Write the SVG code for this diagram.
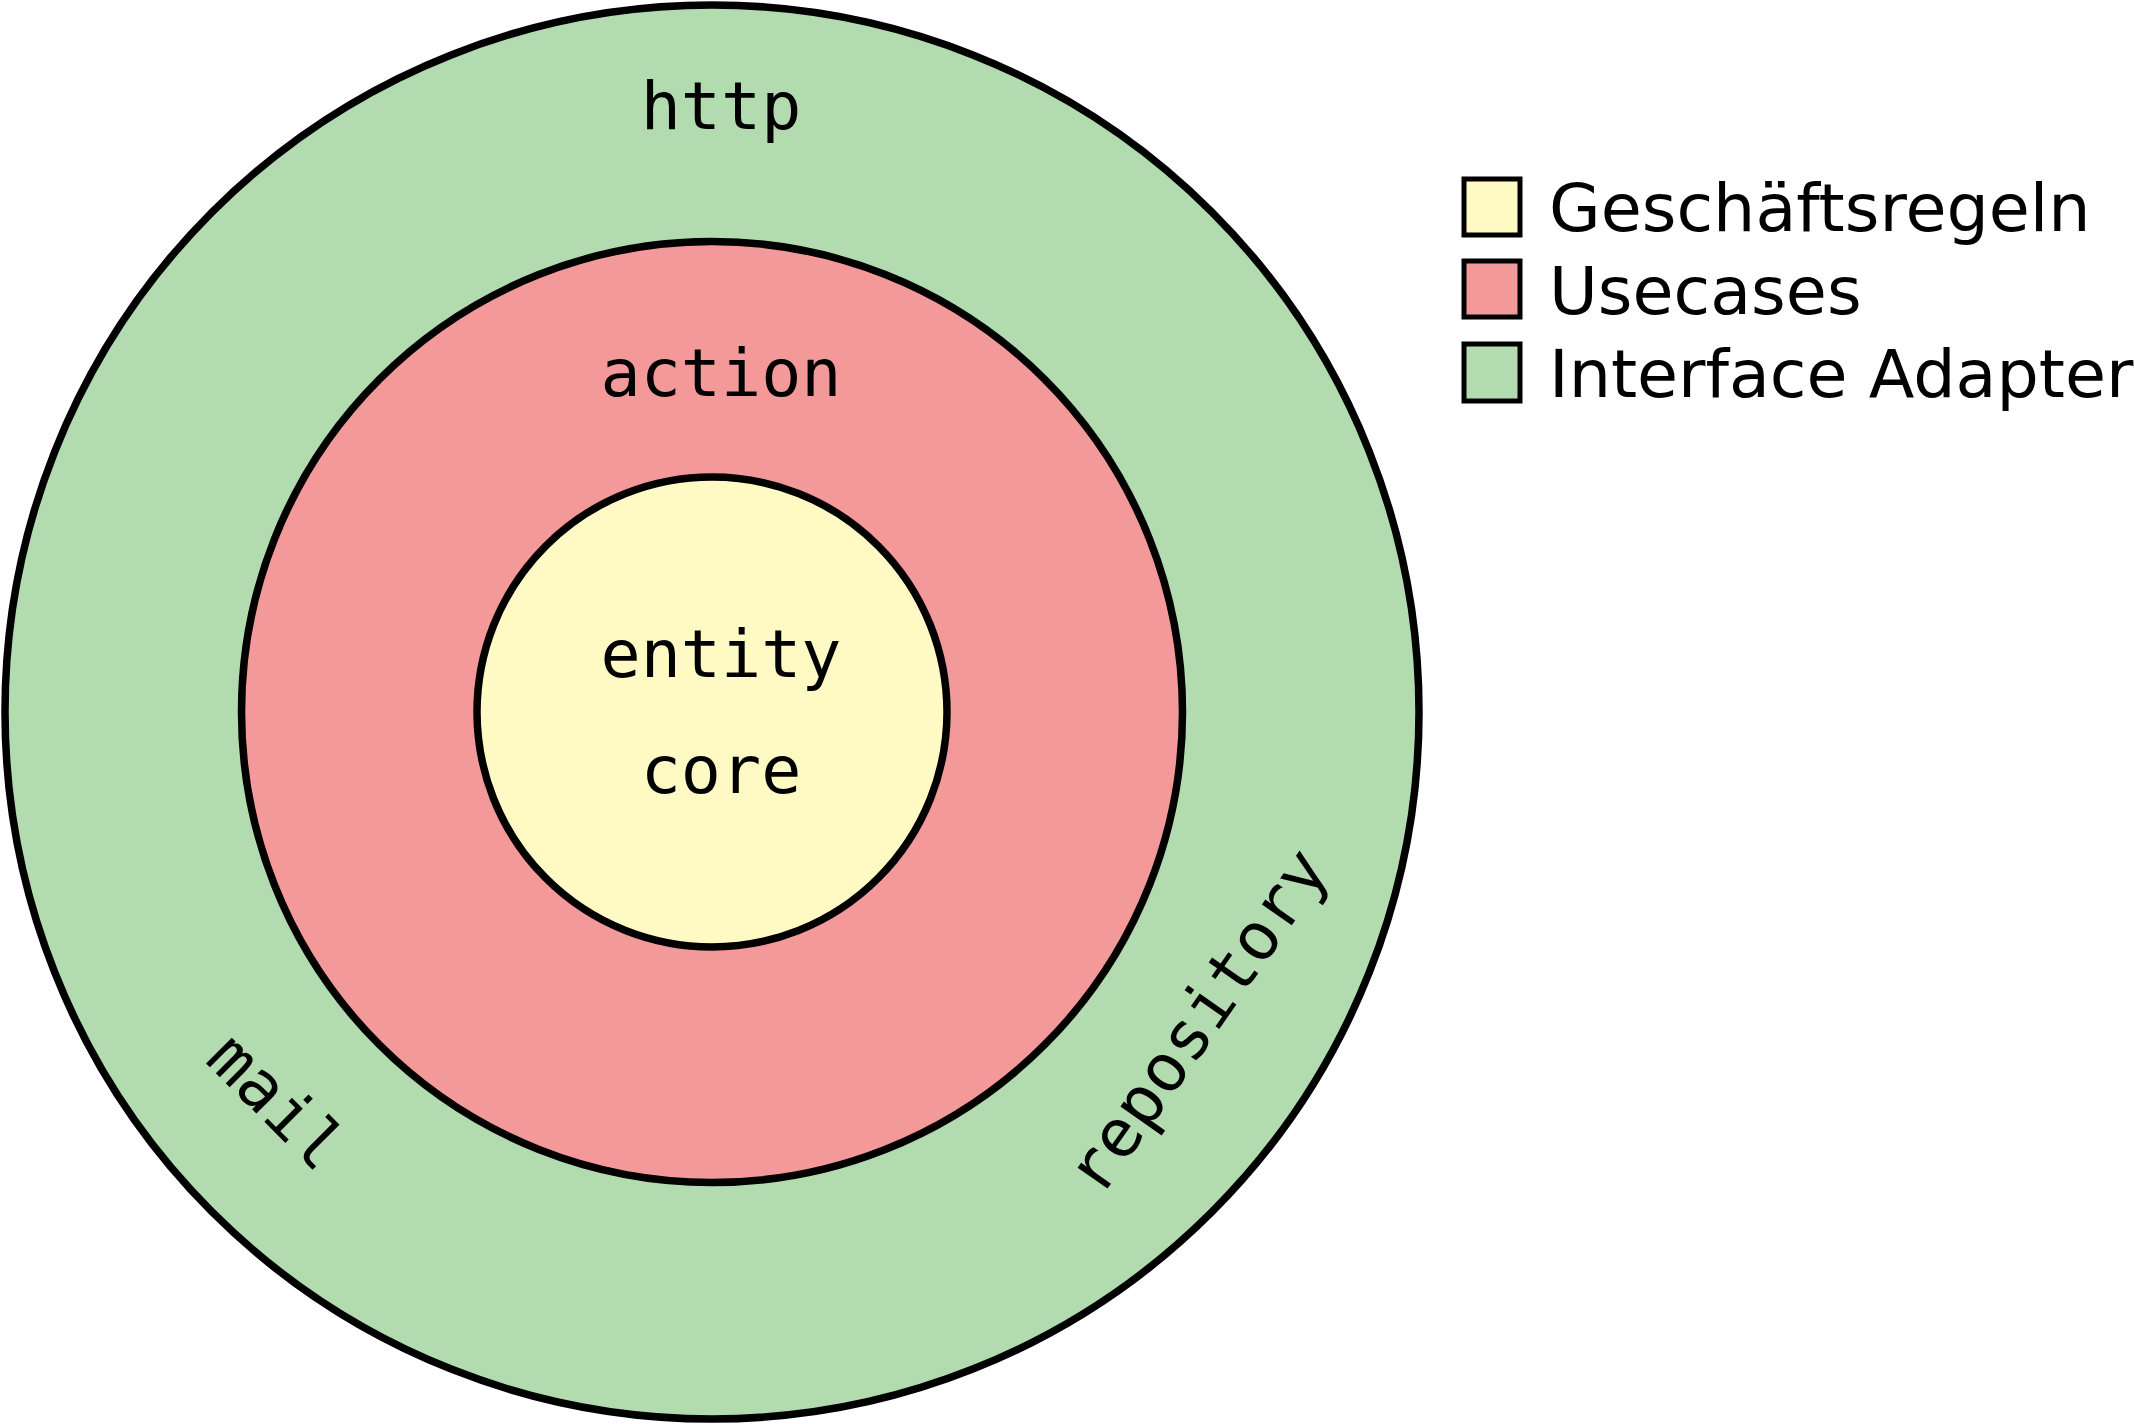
<svg xmlns="http://www.w3.org/2000/svg" width="2134" height="1424" viewBox="0 0 2134 1424">
<style>
.ring{stroke:#000;stroke-width:7.5}
.box{stroke:#000;stroke-width:5}
.mono{font-family:"DejaVu Sans Mono","Liberation Mono",monospace;font-size:66.7px;fill:#000;text-anchor:middle}
.leg{font-family:"DejaVu Sans","Liberation Sans",sans-serif;font-size:66.7px;fill:#000}
.g{fill:#b3dbb0}.r{fill:#f4999a}.y{fill:#fff9c4}
</style>
<rect width="2134" height="1424" fill="#fff"/>
<g id="interface-adapter">
<circle class="ring g" cx="712" cy="712" r="707"/>
<text class="mono" x="721" y="129">http</text>
<text class="mono" transform="translate(278,1100) rotate(45)" x="0" y="25">mail</text>
<text class="mono" transform="translate(1202,1024) rotate(-55)" x="0" y="17">repository</text>
</g>
<g id="usecases">
<circle class="ring r" cx="712" cy="712" r="470.5"/>
<text class="mono" x="721" y="396">action</text>
</g>
<g id="geschaeftsregeln">
<circle class="ring y" cx="712" cy="712" r="235"/>
<text class="mono" x="721" y="677">entity</text>
<text class="mono" x="721" y="793">core</text>
</g>
<g id="legend">
<g id="legend-geschaeftsregeln"><rect class="box y" x="1464" y="179" width="56" height="56"/><text class="leg" x="1549" y="231">Geschäftsregeln</text></g>
<g id="legend-usecases"><rect class="box r" x="1464" y="261" width="56" height="56"/><text class="leg" x="1549" y="314">Usecases</text></g>
<g id="legend-interface"><rect class="box g" x="1464" y="344" width="56" height="57"/><text class="leg" x="1549" y="397">Interface Adapter</text></g>
</g>
<g id="connectors"/>
</svg>
